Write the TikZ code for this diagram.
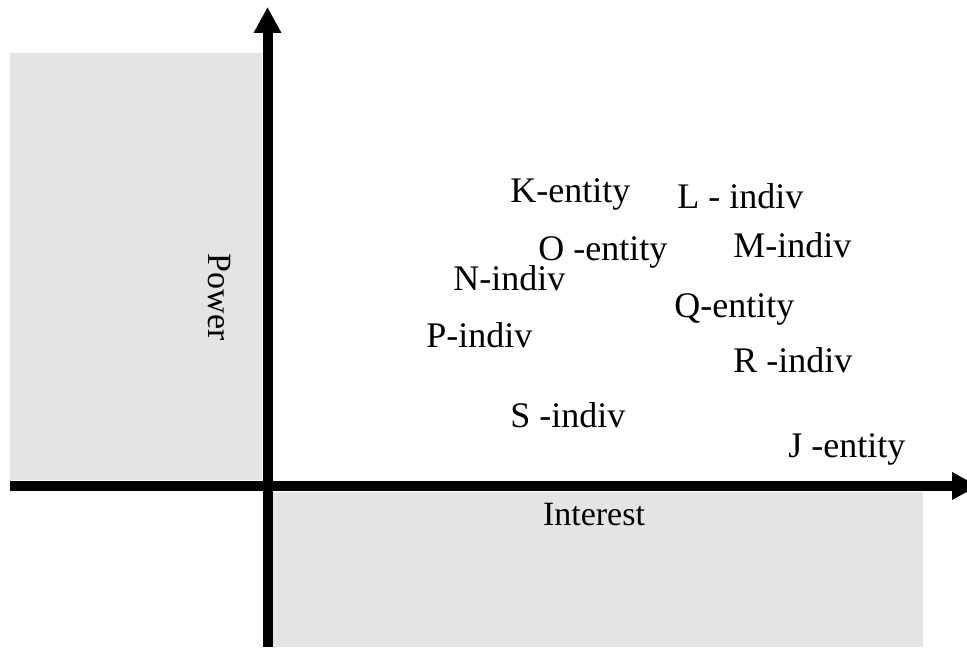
\documentclass[tikz,border=0pt]{standalone}
\usepackage{fontspec}
\setmainfont{Liberation Serif}
\usetikzlibrary{arrows.meta, positioning}
\definecolor{quadgray}{RGB}{228,228,228}
\tikzset{
  %% ---- text ----
  stake/.style   = {anchor=base west, inner sep=0pt,
                    font=\fontsize{18}{21}\selectfont},
  axislabel/.style = {inner sep=0pt, font=\fontsize{17}{20}\selectfont},
  %% ---- axes ----
  axis/.style    = {-{Triangle[length=13pt, width=13pt]},
                    line width=5pt, color=black},
  quad/.style    = {fill=quadgray, draw=none},
}

\begin{document}
\begin{tikzpicture}[x=0.5pt, y=-0.5pt]
\useasboundingbox (0,0) rectangle (967,647);
\clip (0,0) rectangle (967,647);

% shaded quadrants
\fill[quad] (10,53) rectangle (262,480);
\fill[quad] (273,492) rectangle (923,647);

% axes
\coordinate (ybot)   at (267.5,647);
\coordinate (ytop)   at (267.5,7);
\coordinate (xleft)  at (10,486);
\coordinate (xright) at (978,486);
\draw[axis] (xleft) -- (xright);
\draw[axis] (ybot)  -- (ytop);

% axis names
\node[axislabel, rotate=-90] (power)    at (219,297) {Power};
\node[axislabel]             (interest) at (594,515) {Interest};

% stakeholders
\node[stake] (kentity) at (510,202) {K-entity};
\node[stake] (lindiv)  at (677,208) {L - indiv};
\node[stake] (oentity) at (538,260) {O -entity};
\node[stake] (mindiv)  at (733,257) {M-indiv};
\node[stake] (nindiv)  at (453,290) {N-indiv};
\node[stake] (qentity) at (674,317) {Q-entity};
\node[stake] (pindiv)  at (426,347) {P-indiv};
\node[stake] (rindiv)  at (733,372) {R -indiv};
\node[stake] (sindiv)  at (510,427) {S -indiv};
\node[stake] (jentity) at (788,457) {J -entity};

\end{tikzpicture}
\end{document}
